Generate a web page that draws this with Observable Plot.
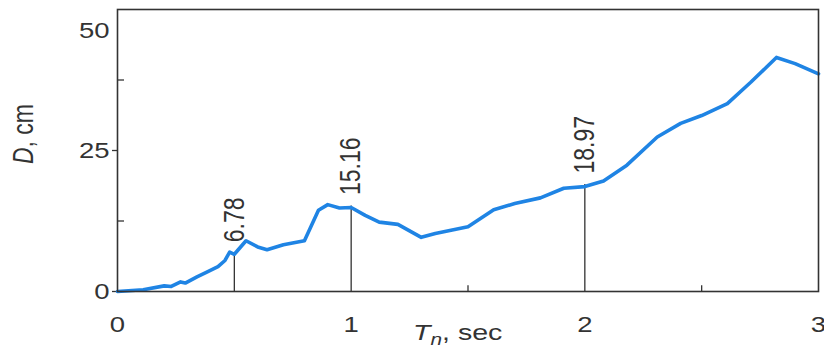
<!DOCTYPE html>
<html>
<head>
<meta charset="utf-8">
<script src="https://cdn.jsdelivr.net/npm/d3@7"></script>
<script src="https://cdn.jsdelivr.net/npm/@observablehq/plot@0.6"></script>
<style>
  html, body { margin: 0; padding: 0; background: #ffffff; }
  #chart { width: 824px; height: 352px; }
</style>
</head>
<body>
<div id="chart"></div>
<script>
// Period Tn (sec)
const periods = [0, 0.11, 0.2, 0.23, 0.27, 0.29, 0.34, 0.38, 0.43, 0.46, 0.48, 0.5, 0.55, 0.6, 0.64, 0.71, 0.8, 0.83, 0.86, 0.9, 0.95, 1.0, 1.06, 1.12, 1.2, 1.3, 1.36, 1.5, 1.61, 1.7, 1.81, 1.91, 2.0, 2.08, 2.18, 2.31, 2.41, 2.5, 2.61, 2.71, 2.82, 2.9, 3.0];
// Deformation D (cm)
const deformations = [0, 0.3, 1.0, 0.9, 1.7, 1.5, 2.6, 3.4, 4.4, 5.5, 7.0, 6.6, 9.0, 7.9, 7.4, 8.3, 9.0, 11.7, 14.4, 15.4, 14.8, 14.9, 13.5, 12.3, 11.9, 9.6, 10.3, 11.5, 14.5, 15.6, 16.6, 18.3, 18.6, 19.6, 22.4, 27.4, 29.8, 31.2, 33.3, 37.1, 41.5, 40.4, 38.6];
// Marked values
const markerPeriods = [0.5, 1, 2];
const markerValues = [6.78, 15.16, 18.97];
const markerLabels = ["6.78", "15.16", "18.97"];
// Ticks
const xTicks = [0, 1, 2, 3];
const yTicks = [0, 25];
const yTopTick = [50];
const yMinorTicks = [12.5, 37.5];
const xMinorTicks = [1.5, 2.5];

const curve = periods.map((t, i) => ({t, d: deformations[i]}));
const markers = markerPeriods.map((t, i) => ({t, d: markerValues[i], label: markerLabels[i]}));

const ink = "#333333";
const font = "'Liberation Sans', Arial, Helvetica, sans-serif";
const stretchX = 1.25;

const plot = Plot.plot({
  width: 824,
  height: 352,
  marginLeft: 117,
  marginRight: 6,
  marginTop: 9,
  marginBottom: 61,
  style: {fontFamily: font, color: ink, background: "#ffffff"},
  x: {domain: [0, 3], label: null},
  y: {domain: [0, 50], label: null},
  marks: [
    Plot.axisY(yTicks, {label: null, tickSize: 5, tickPadding: 3, fontSize: 22, stroke: ink, strokeWidth: 1.3, fill: ink}),
    Plot.axisY(yTopTick, {label: null, tickSize: 0, tickPadding: 8, fontSize: 22, dy: 21, fill: ink}),
    Plot.axisX(xTicks, {label: null, tickSize: 0, tickPadding: 25, fontSize: 22, fill: ink, tickFormat: d => String(d)}),
    Plot.ruleY(yMinorTicks, {x1: 0, x2: 0.03, stroke: ink, strokeWidth: 1.3}),
    Plot.ruleX(xMinorTicks, {y1: 0, y2: 1, stroke: ink, strokeWidth: 1.3}),
    Plot.ruleX(markers, {x: "t", y1: 0, y2: "d", stroke: ink, strokeWidth: 1.3}),
    Plot.line(curve, {x: "t", y: "d", stroke: "#1f84e4", strokeWidth: 3.6, curve: "linear"}),
    Plot.text(markers, {x: "t", y: "d", text: "label", rotate: -90, textAnchor: "start", dy: -11, fontSize: 23, fill: ink}),
    Plot.frame({stroke: ink, strokeWidth: 1.6})
  ]
});

document.getElementById("chart").appendChild(plot);

// widen glyphs horizontally (the reference lettering is broad), keeping each anchor in place
function stretch(el, sx, sy) {
  let nt = el.getAttribute("transform") || "";
  let tx = 0, ty = 0;
  for (const a of ["x", "y"]) {
    const v = el.getAttribute(a);
    if (v !== null && !/em$/.test(v)) {
      if (a === "x") tx = +v; else ty = +v;
      el.removeAttribute(a);
    }
  }
  if (tx || ty) nt += ` translate(${tx},${ty})`;
  nt += ` scale(${sx},${sy})`;
  el.setAttribute("transform", nt.trim());
}

const svg = d3.select(plot);
svg.selectAll('g[aria-label$="tick label"] text').each(function() { stretch(this, stretchX, 1); });
svg.selectAll('g[aria-label="text"] text').each(function() { stretch(this, 1, stretchX); });

// Axis titles with italic / subscript parts
const yTitle = svg.append("text")
  .attr("transform", `translate(33,134) rotate(-90) scale(1,${stretchX})`)
  .attr("text-anchor", "middle")
  .attr("font-family", font)
  .attr("font-size", 23)
  .attr("fill", ink);
yTitle.append("tspan").attr("font-style", "italic").text("D");
yTitle.append("tspan").text(", cm");

const xTitle = svg.append("text")
  .attr("transform", `translate(413,340) scale(${stretchX + 0.05},1)`)
  .attr("text-anchor", "start")
  .attr("font-family", font)
  .attr("font-size", 22)
  .attr("fill", ink);
xTitle.append("tspan").attr("font-style", "italic").text("T");
xTitle.append("tspan").attr("font-style", "italic").attr("font-size", 16).attr("dy", 5).text("n");
xTitle.append("tspan").attr("dy", -5).text(", sec");
</script>
</body>
</html>
